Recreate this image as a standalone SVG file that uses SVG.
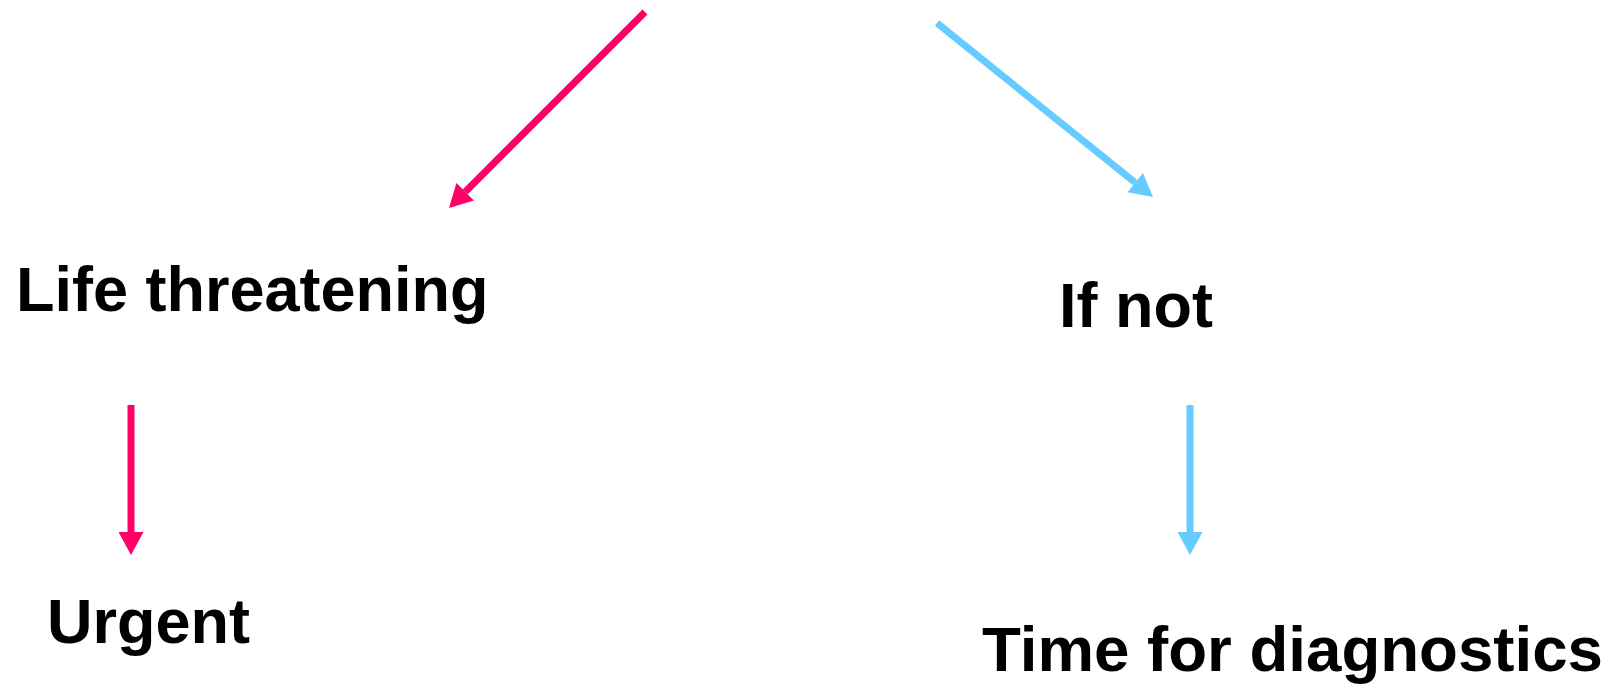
<svg xmlns="http://www.w3.org/2000/svg" width="1613" height="687" viewBox="0 0 1613 687">
<style>
  .lbl { font-family: "Liberation Sans", Arial, sans-serif; font-weight: bold; font-size: 63px; fill: #000; }
  .pink { stroke: #FF0066; stroke-width: 7; fill: none; }
  .blue { stroke: #66CCFF; stroke-width: 7; fill: none; }
</style>
<defs>
  <marker id="ahPink" markerUnits="userSpaceOnUse" markerWidth="24" markerHeight="25" refX="0" refY="12.5" orient="auto" viewBox="0 0 24 25">
    <path d="M0,0 L23,12.5 L0,25 Z" fill="#FF0066"/>
  </marker>
  <marker id="ahBlue" markerUnits="userSpaceOnUse" markerWidth="24" markerHeight="25" refX="0" refY="12.5" orient="auto" viewBox="0 0 24 25">
    <path d="M0,0 L23,12.5 L0,25 Z" fill="#66CCFF"/>
  </marker>
</defs>
<rect width="1613" height="687" fill="#fff"/>
<g id="connectors">
  <line class="pink" x1="645" y1="12" x2="465.3" y2="191.7" marker-end="url(#ahPink)"/>
  <line class="blue" x1="937" y1="23" x2="1135.1" y2="182.6" marker-end="url(#ahBlue)"/>
  <line class="pink" x1="131" y1="405" x2="131" y2="532" marker-end="url(#ahPink)"/>
  <line class="blue" x1="1190" y1="405" x2="1190" y2="532" marker-end="url(#ahBlue)"/>
</g>
<g id="life-threatening"><text class="lbl" x="16" y="311">Life threatening</text></g>
<g id="if-not"><text class="lbl" x="1059" y="327">If not</text></g>
<g id="urgent"><text class="lbl" x="47" y="643">Urgent</text></g>
<g id="time-for-diagnostics"><text class="lbl" x="982" y="671" textLength="621" lengthAdjust="spacingAndGlyphs">Time for diagnostics</text></g>
</svg>
